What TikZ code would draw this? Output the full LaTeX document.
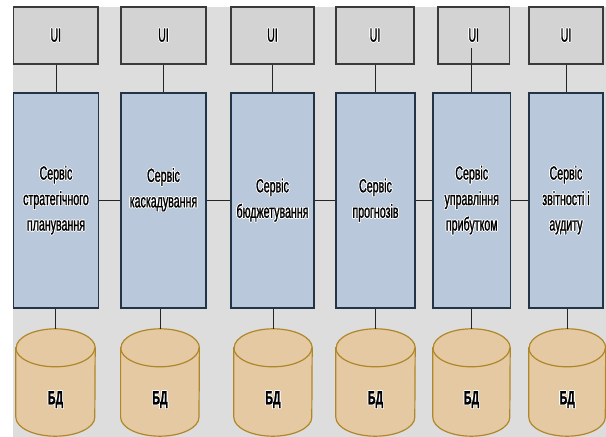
\documentclass[tikz,border=0pt]{standalone}
\usepackage{fontspec}
\setmainfont{Liberation Sans}
\newfontfamily\narrow[FakeStretch=0.56,FakeBold=1.2]{Liberation Sans}
\usepackage{contour}
\contourlength{0.7pt}
\usetikzlibrary{calc}
\definecolor{bgcol}{HTML}{DDDDDD}
\definecolor{uifill}{HTML}{D3D3D3}
\definecolor{uiline}{HTML}{3A3A3A}
\definecolor{svcfill}{HTML}{B9C8DB}
\definecolor{svcline}{HTML}{243447}
\definecolor{dbfill}{HTML}{E4C9A3}
\definecolor{dbline}{HTML}{B08728}
\newcommand{\ct}[1]{\contour{white}{#1}}
\tikzset{
  uibox/.style={draw=uiline, fill=uifill, line width=1.1pt, inner sep=0pt,
    minimum height=57pt, font=\narrow\fontsize{19}{22}\selectfont},
  svcbox/.style={draw=svcline, fill=svcfill, line width=1.1pt, inner sep=0pt,
    minimum height=215pt, align=center,
    font=\narrow\fontsize{19}{25.5}\selectfont},
  dbarea/.style={inner sep=0pt, minimum height=107pt},
  dbtext/.style={font=\narrow\bfseries\fontsize{19}{22}\selectfont},
  conn/.style={draw=black!85, line width=0.9pt},
}
\newcommand{\dbcyl}[2]{%
  \path[fill=dbfill, draw=dbline, line width=1.2pt]
    ($(#1.north west)+(0,-19)$) -- ($(#1.south west)+(0,19)$)
    arc[start angle=180, end angle=360, x radius=#2, y radius=19pt]
    -- ($(#1.north east)+(0,-19)$)
    arc[start angle=0, end angle=180, x radius=#2, y radius=19pt] -- cycle;
  \draw[dbline, line width=1.2pt] ($(#1.north west)+(0,-19)$)
    arc[start angle=180, end angle=360, x radius=#2, y radius=19pt];
}
\begin{document}
\begin{tikzpicture}[x=1pt, y=1pt]
\useasboundingbox (0,0) rectangle (606,437);
\fill[bgcol] (13,0) rectangle (606,430);

% UI boxes
\node[uibox, minimum width=84.5pt] (ui1) at (55.75,401.5) {\ct{UI}};
\node[uibox, minimum width=85pt]   (ui2) at (163.5,401.5) {\ct{UI}};
\node[uibox, minimum width=83pt]   (ui3) at (272.5,401.5) {\ct{UI}};
\node[uibox, minimum width=78pt]   (ui4) at (375,401.5) {\ct{UI}};
\node[uibox, minimum width=71.5pt] (ui5) at (473.75,401.5) {\ct{UI}};
\node[uibox, minimum width=74pt]   (ui6) at (566,401.5) {\ct{UI}};

% Service boxes
\node[svcbox, minimum width=85pt]   (s1) at (56,236.5) {\ct{Сервіс}\\\ct{стратегічного}\\\ct{планування}};
\node[svcbox, minimum width=85pt]   (s2) at (163.5,236.5) {\ct{Сервіс}\\\ct{каскадування}\\\mbox{}};
\node[svcbox, minimum width=83pt]   (s3) at (272.5,236.5) {\ct{Сервіс}\\\ct{бюджетування}};
\node[svcbox, minimum width=79pt]   (s4) at (375.5,236.5) {\ct{Сервіс}\\\ct{прогнозів}};
\node[svcbox, minimum width=77.5pt] (s5) at (471.75,236.5) {\ct{Сервіс}\\\ct{управління}\\\ct{прибутком}};
\node[svcbox, minimum width=74pt]   (s6) at (566,236.5) {\ct{Сервіс}\\\ct{звітності і}\\\ct{аудиту}};

% DB areas
\node[dbarea, minimum width=79pt]   (d1) at (55.5,54.5) {};
\node[dbarea, minimum width=78.4pt] (d2) at (160,54.5) {};
\node[dbarea, minimum width=78pt]   (d3) at (273,54.5) {};
\node[dbarea, minimum width=79pt]   (d4) at (375.5,54.5) {};
\node[dbarea, minimum width=77pt]   (d5) at (471.5,54.5) {};
\node[dbarea, minimum width=76.5pt] (d6) at (567.25,54.5) {};
\dbcyl{d1}{39.5pt}
\dbcyl{d2}{39.2pt}
\dbcyl{d3}{39pt}
\dbcyl{d4}{39.5pt}
\dbcyl{d5}{38.5pt}
\dbcyl{d6}{38.25pt}
\node[dbtext] (t1) at (55.5,37) {\ct{БД}};
\node[dbtext] (t2) at (160,37) {\ct{БД}};
\node[dbtext] (t3) at (273,37) {\ct{БД}};
\node[dbtext] (t4) at (375.5,37) {\ct{БД}};
\node[dbtext] (t5) at (471.5,37) {\ct{БД}};
\node[dbtext] (t6) at (567.25,37) {\ct{БД}};

% connectors
\foreach \i in {1,2,3,4,6}{
  \draw[conn] (s\i.north) -- (s\i.north |- ui\i.south);
}
\draw[conn] (s5.north) -- ($(s5.north |- ui5.center)+(0,-13)$);
\foreach \i in {1,...,6}{
  \draw[conn] (d\i.north) -- (d\i.north |- s\i.south);
}
\draw[conn] (s1.east) -- (s2.west);
\draw[conn] (s2.east) -- (s3.west);
\draw[conn] (s3.east) -- (s4.west);
\draw[conn] (s4.east) -- (s5.west);
\draw[conn] (s5.east) -- (s6.west);
\end{tikzpicture}
\end{document}
